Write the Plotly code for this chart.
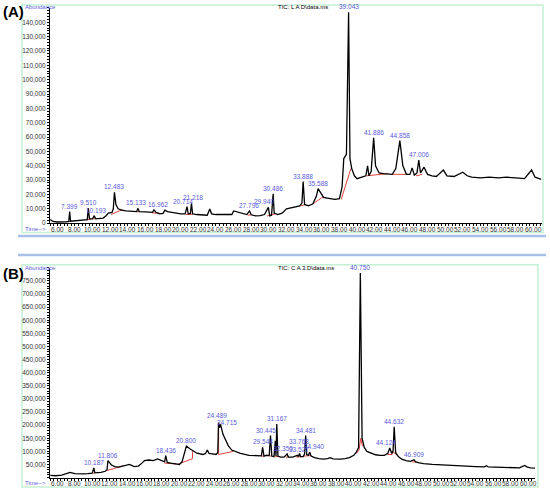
import plotly.graph_objects as go

W, H = 550, 491

# ---- panel A : TIC L A D ----
time_a = [5.2, 5.5, 6.0, 6.5, 7.0, 7.3, 7.399, 7.5, 8.0, 8.5, 9.0, 9.4, 9.510, 9.65, 10.0, 10.193,
          10.35, 10.8, 11.2, 11.5, 11.8, 12.2, 12.35, 12.483, 12.65, 12.9, 13.3, 13.8, 14.5, 15.0,
          15.133, 15.3, 16.0, 16.8, 16.962, 17.2, 17.6, 18.0, 18.2, 18.5, 19.0, 19.5, 20.0, 20.5,
          20.714, 20.85, 21.1, 21.218, 21.35, 21.8, 22.5, 23.0, 23.3, 23.5, 24.0, 25.0, 25.8, 26.0,
          26.5, 27.0, 27.5, 27.796, 28.0, 28.5, 29.0, 29.5, 29.940, 30.1, 30.3, 30.486, 30.6, 31.0,
          31.5, 32.0, 32.5, 33.0, 33.5, 33.75, 33.888, 34.05, 34.5, 35.0, 35.4, 35.588, 35.8, 36.2,
          36.6, 37.0, 37.5, 38.0, 38.3, 38.5, 38.8, 39.043, 39.2, 39.4, 39.7, 40.0, 40.5, 41.0,
          41.2, 41.35, 41.6, 41.886, 42.1, 42.5, 43.0, 43.5, 44.0, 44.4, 44.858, 45.2, 45.6, 46.0,
          46.25, 46.5, 46.8, 47.006, 47.2, 47.6, 48.0, 48.5, 49.0, 49.8, 50.2, 51.0, 52.0, 52.5,
          53.0, 54.0, 55.0, 56.0, 57.0, 58.0, 59.0, 59.8, 60.2, 60.9]
abund_a = [2500, 1200, 800, 600, 900, 1200, 8000, 1300, 1500, 1800, 2200, 2500, 10500, 3000, 3000, 5200,
           3000, 3200, 3500, 5000, 7000, 7500, 10000, 21500, 13000, 10000, 9000, 8500, 8000, 8000,
           10300, 8000, 7800, 7500, 9300, 7500, 6500, 6800, 9000, 8000, 7500, 6800, 6500, 6500,
           11500, 6500, 6800, 13800, 6500, 6000, 5800, 5500, 9800, 6500, 6000, 5800, 6000, 8500,
           7800, 7000, 6000, 8500, 5800, 5000, 5200, 6000, 11000, 5000, 5500, 20500, 7000, 6000,
           7000, 10000, 10500, 11000, 12000, 14000, 29000, 13000, 12000, 13500, 19000, 24000, 22000, 18000,
           17500, 17000, 16500, 17000, 25000, 45000, 48000, 147000, 45000, 38000, 33000, 31000, 32000, 33000,
           40000, 33000, 36000, 59500, 40000, 35000, 34500, 34000, 34000, 38000, 57500, 40000, 34000, 34000,
           38500, 33500, 35000, 44000, 35000, 39000, 34000, 33000, 32500, 37000, 33000, 32500, 35500, 33000,
           32000, 31500, 32000, 31500, 32000, 31500, 31000, 37000, 32000, 30500]

base_a_t = [[7.2, 7.6], [9.3, 9.8], [10.1, 10.3], [12.1, 13.4], [14.9, 15.4], [16.8, 17.6],
            [20.6, 21.4], [27.6, 28.0], [29.8, 30.7], [33.6, 34.2], [35.0, 36.2], [38.2, 39.3],
            [41.1, 43.5], [44.0, 45.8], [46.7, 47.4]]
base_a_v = [[1000, 1300], [2300, 2800], [3000, 3000], [6000, 9500], [8000, 8000], [7000, 7000],
            [6000, 6200], [5500, 5800], [5000, 6500], [12000, 13000], [13500, 18500], [16500, 38000],
            [33000, 34500], [34000, 34000], [33000, 34000]]

peaks_a = ["7.399", "9.510", "10.193", "12.483", "15.133", "16.962", "20.714", "21.218", "27.796",
           "29.940", "30.486", "33.888", "35.588", "39.043", "41.886", "44.858", "47.006"]

# ---- panel B : TIC C A 3 ----
time_b = [5.2, 5.8, 6.5, 7.0, 7.46, 8.0, 8.5, 9.0, 9.5, 10.0, 10.187, 10.3, 11.0, 11.5, 11.7, 11.806,
          12.2, 12.6, 13.0, 13.5, 14.0, 14.3, 14.8, 15.3, 15.7, 16.0, 16.5, 17.0, 17.5, 18.0, 18.3,
          18.436, 18.6, 19.0, 19.5, 20.0, 20.3, 20.5, 20.800, 21.2, 21.6, 22.0, 22.7, 23.0, 23.2,
          23.4, 23.8, 24.2, 24.4, 24.489, 24.6, 24.715, 25.0, 25.3, 25.6, 26.0, 26.5, 27.0, 28.0,
          29.0, 29.4, 29.544, 29.7, 30.0, 30.3, 30.445, 30.6, 30.85, 31.0, 31.08, 31.167, 31.3, 31.6,
          32.0, 32.350, 32.5, 33.0, 33.527, 33.65, 33.768, 33.9, 34.2, 34.35, 34.481, 34.6, 34.8,
          34.940, 35.1, 35.5, 36.0, 36.5, 37.0, 37.3, 37.6, 38.0, 38.5, 39.0, 39.5, 40.0, 40.3,
          40.55, 40.750, 40.95, 41.2, 41.5, 42.0, 42.5, 43.0, 43.5, 43.9, 44.124, 44.35, 44.5,
          44.632, 44.8, 45.1, 45.5, 46.0, 46.5, 46.909, 47.1, 47.5, 48.0, 49.0, 50.0, 51.0, 52.0,
          53.0, 54.0, 55.0, 55.2, 55.4, 56.0, 57.0, 58.0, 59.0, 59.6, 59.9, 60.3, 60.8]
abund_b = [8000, 7000, 9000, 14000, 20000, 15000, 14000, 14000, 15000, 17000, 37000, 18000, 20000, 24000, 30000, 65000,
           48000, 42000, 40000, 44000, 47000, 50000, 42000, 44000, 55000, 65000, 67000, 65000, 71000, 65000, 60000,
           84000, 58000, 55000, 52000, 50000, 60000, 85000, 120000, 110000, 100000, 93000, 88000, 92000, 105000,
           92000, 90000, 88000, 96000, 210000, 190000, 204000, 165000, 140000, 122000, 105000, 97000, 92000, 85000,
           82000, 83000, 115000, 82000, 85000, 84000, 160000, 82000, 80000, 140000, 82000, 204000, 82000, 78000,
           78000, 90000, 78000, 78000, 85000, 80000, 92000, 80000, 80000, 90000, 160000, 88000, 85000,
           97000, 82000, 76000, 72000, 70000, 72000, 76000, 71000, 70000, 70000, 72000, 76000, 85000, 98000,
           115000, 780000, 150000, 115000, 100000, 92000, 87000, 85000, 85000, 92000, 113000, 92000, 100000,
           194000, 95000, 80000, 70000, 65000, 62000, 68000, 60000, 56000, 53000, 50000, 48000, 46000, 45000,
           44000, 42000, 41000, 45000, 41000, 40000, 39000, 38000, 37000, 46000, 40000, 37000, 36000]

base_b_t = [[10.1, 10.3], [11.7, 13.6], [18.3, 19.6], [19.9, 21.5, 21.5], [24.5, 24.5, 26.2],
            [29.4, 29.7], [30.3, 30.6], [31.0, 31.4], [32.2, 32.5], [33.4, 34.1], [34.3, 35.1],
            [40.3, 40.6, 40.8, 41.0], [43.9, 44.4, 44.4, 45.0], [46.7, 47.2]]
base_b_v = [[17000, 18000], [27000, 45000], [55000, 52000], [52000, 72000, 100000], [205000, 88000, 100000],
            [82000, 82000], [83000, 82000], [80000, 80000], [78000, 78000], [78000, 80000], [82000, 84000],
            [92000, 105000, 150000, 120000], [88000, 88000, 100000, 85000], [60000, 59000]]

peaks_b = ["10.187", "11.806", "18.436", "20.800", "24.489", "24.715", "29.544", "30.445", "31.167",
           "32.350", "33.527", "33.768", "34.481", "34.940", "40.750", "44.124", "44.632", "46.909"]

time_ticks = [6, 8, 10, 12, 14, 16, 18, 20, 22, 24, 26, 28, 30, 32, 34, 36, 38, 40, 42, 44, 46, 48,
              50, 52, 54, 56, 58, 60]

LABEL_BLUE = "#5b5be0"
RED = "#e0413c"
FONT = "Liberation Sans, Arial, sans-serif"

# nudges (px) for labels that sit on top of each other
label_nudge = {"24.489": (-2, 2), "24.715": (6, -4), "30.445": (-4, 0), "32.350": (-4, 0),
               "33.527": (2, 0), "33.768": (0, 6), "34.940": (4, 0), "16.962": (4, 0),
               "15.133": (-2, 0), "20.714": (-4, 0), "21.218": (2, 0), "29.940": (-4, 0),
               "10.193": (2, 0), "44.124": (-4, 0)}


def px_x(p):
    return p / W


def px_y(p):
    return 1 - p / H


fig = go.Figure()

panels = [
    ("x", "y", time_a, abund_a, base_a_t, base_a_v, peaks_a, 230.5),
    ("x2", "y2", time_b, abund_b, base_b_t, base_b_v, peaks_b, 486),
]

annotations = []
for xa, ya, tt, vv, bt, bv, pk, lab_y in panels:
    # red integration baselines
    rx, ry = [], []
    for segt, segv in zip(bt, bv):
        rx += segt + [None]
        ry += segv + [None]
    fig.add_trace(go.Scatter(x=rx, y=ry, xaxis=xa, yaxis=ya, mode="lines",
                             line=dict(color=RED, width=1), hoverinfo="skip", showlegend=False))
    fig.add_trace(go.Scatter(x=tt, y=vv, xaxis=xa, yaxis=ya, mode="lines",
                             line=dict(color="black", width=1.3), showlegend=False))
    # peak labels
    for lab in pk:
        t = float(lab)
        v = vv[tt.index(t)]
        dx, dy = label_nudge.get(lab, (0, 0))
        annotations.append(dict(x=t, y=v, xref=xa, yref=ya, text=lab, showarrow=False,
                                yanchor="bottom", xanchor="center", xshift=dx, yshift=dy,
                                font=dict(size=6.5, color=LABEL_BLUE, family=FONT)))
    # time labels drawn as text so they sit tight under the axis
    for t in time_ticks:
        annotations.append(dict(x=t, y=px_y(lab_y), xref=xa, yref="paper", text=f"{t:.2f}",
                                showarrow=False, xanchor="center", yanchor="middle",
                                font=dict(size=6.5, color="#333", family=FONT)))

axis_common = dict(showgrid=False, zeroline=False, showline=True, linecolor="black", linewidth=1,
                   ticks="outside", ticklen=2, tickcolor="black",
                   tickfont=dict(size=6.5, color="#333", family=FONT))

x_common = dict(axis_common, tickvals=time_ticks, showticklabels=False,
                minor=dict(dtick=0.4, tick0=6, ticklen=2, tickcolor="black", ticks="outside"))

fig.update_layout(
    width=W, height=H,
    margin=dict(l=0, r=0, t=0, b=0),
    paper_bgcolor="white", plot_bgcolor="white",
    xaxis=dict(x_common, domain=[px_x(50), px_x(541.7)], range=[5.17, 60.95], anchor="y"),
    yaxis=dict(axis_common, domain=[px_y(224.5), px_y(8)], range=[0, 150000], anchor="x",
               tickvals=list(range(0, 150000, 10000)), tickformat=",d",
               minor=dict(dtick=2000, ticklen=2, tickcolor="black", ticks="outside")),
    xaxis2=dict(x_common, domain=[px_x(50), px_x(535)], range=[5.16, 60.78], anchor="y2"),
    yaxis2=dict(axis_common, domain=[px_y(480.5), px_y(269.5)], range=[0, 800000], anchor="x2",
                tickvals=list(range(50000, 800000, 50000)), tickformat=",d",
                minor=dict(dtick=10000, ticklen=2, tickcolor="black", ticks="outside")),
)

# frame texts
for top, bottom, tic, tag in [(7, 230.5, "TIC: L A D\\data.ms", "(A)"),
                              (270, 486, "TIC: C A 3.D\\data.ms", "(B)")]:
    annotations.append(dict(x=px_x(23), y=px_y(top), xref="paper", yref="paper", text="Abundance",
                            showarrow=False, xanchor="left", yanchor="middle",
                            font=dict(size=6, color=LABEL_BLUE, family=FONT)))
    annotations.append(dict(x=px_x(23), y=px_y(bottom), xref="paper", yref="paper", text="Time-->",
                            showarrow=False, xanchor="left", yanchor="middle",
                            font=dict(size=6, color=LABEL_BLUE, family=FONT)))
    annotations.append(dict(x=px_x(276), y=px_y(top), xref="paper", yref="paper", text=tic,
                            showarrow=False, xanchor="left", yanchor="middle",
                            font=dict(size=6, color="black", family=FONT)))
    annotations.append(dict(x=px_x(1), y=px_y(top + 5), xref="paper", yref="paper",
                            text="<b>" + tag + "</b>", showarrow=False, xanchor="left",
                            yanchor="middle", font=dict(size=15, color="black", family=FONT)))

fig.update_layout(annotations=annotations)

shapes = [
    dict(type="rect", xref="paper", yref="paper", x0=px_x(22), x1=px_x(543), y0=px_y(234), y1=px_y(5),
         line=dict(color="#c4f0d4", width=1.5), layer="below"),
    dict(type="rect", xref="paper", yref="paper", x0=px_x(22), x1=px_x(538), y0=px_y(490), y1=px_y(266.5),
         line=dict(color="#c4f0d4", width=1.5), layer="below"),
    dict(type="line", xref="paper", yref="paper", x0=px_x(18), x1=px_x(546), y0=px_y(237.5), y1=px_y(237.5),
         line=dict(color="#a9c1e6", width=2.5)),
    dict(type="line", xref="paper", yref="paper", x0=px_x(18), x1=px_x(546), y0=px_y(256.5), y1=px_y(256.5),
         line=dict(color="#a9c1e6", width=2.5)),
]
fig.update_layout(shapes=shapes)

# the page body has a default 8px margin; drop it so the figure fills the window
fig.write_html("out.html", config={"displayModeBar": False},
               post_script="document.body.style.margin='0';")
